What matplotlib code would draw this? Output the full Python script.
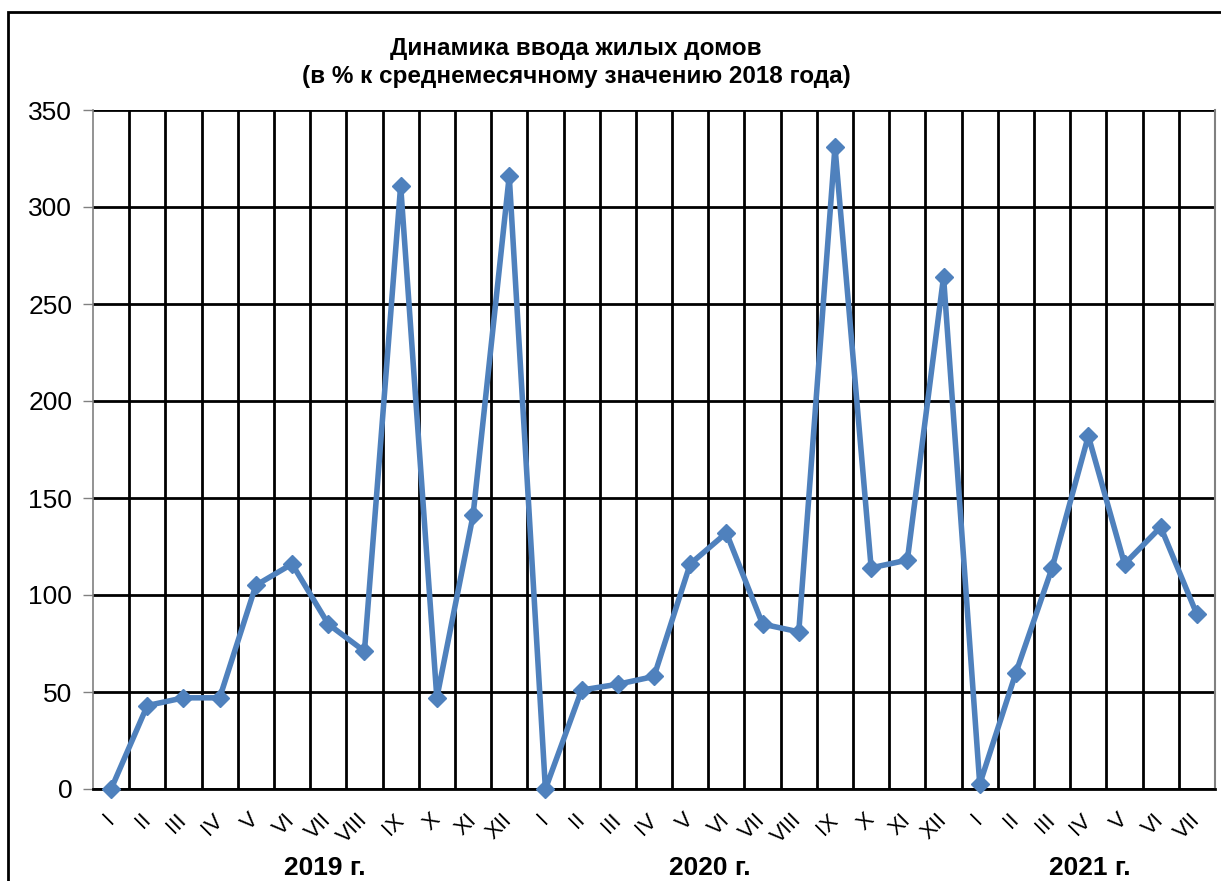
import matplotlib.pyplot as plt
from matplotlib.patches import Rectangle

months_2019 = ["I", "II", "III", "IV", "V", "VI", "VII", "VIII", "IX", "X", "XI", "XII"]
months_2020 = ["I", "II", "III", "IV", "V", "VI", "VII", "VIII", "IX", "X", "XI", "XII"]
months_2021 = ["I", "II", "III", "IV", "V", "VI", "VII"]

values_2019 = [0, 43, 47, 47, 105, 116, 85, 71, 311, 47, 141, 316]
values_2020 = [0, 51, 54, 58, 116, 132, 85, 81, 331, 114, 118, 264]
values_2021 = [2.5, 60, 114, 182, 116, 135, 90]

years = ["2019 г.", "2020 г.", "2021 г."]

labels = months_2019 + months_2020 + months_2021
values = values_2019 + values_2020 + values_2021
x = list(range(len(values)))

plt.rcParams['font.family'] = ['Liberation Sans', 'DejaVu Sans']

fig = plt.figure(figsize=(12.21, 8.81), dpi=100)
ax = fig.add_axes([93/1221, 1 - 789/881, (1215 - 93)/1221, (789 - 110)/881])

ax.set_xlim(-0.5, len(values) - 0.5)
ax.set_ylim(0, 350)
ax.set_yticks(range(0, 351, 50))
ax.tick_params(axis='y', labelsize=19, length=7, width=1, color='#808080', pad=8)

ax.set_xticks(x)
ax.set_xticklabels(labels, rotation=45, ha='right', va='center', rotation_mode='anchor', fontsize=16)
ax.tick_params(axis='x', length=0, pad=20)
ax.set_xticks([i + 0.5 for i in x[:-1]], minor=True)
ax.tick_params(axis='x', which='minor', length=0)

ax.grid(True, axis='y', color='black', linewidth=2)
ax.grid(True, axis='x', which='minor', color='black', linewidth=2)
ax.grid(False, axis='x', which='major')
ax.set_axisbelow(True)

ax.spines['top'].set_visible(False)
ax.spines['left'].set_color('#808080')
ax.spines['left'].set_linewidth(1.2)
ax.spines['right'].set_color('#808080')
ax.spines['right'].set_linewidth(1.5)
ax.spines['bottom'].set_color('black')
ax.spines['bottom'].set_linewidth(2)

ax.plot(x, values, color='#4F81BD', linewidth=4, marker='D', markersize=9,
        markerfacecolor='#4F81BD', markeredgecolor='#4F81BD', zorder=3, clip_on=False)

fig.text(576/1221, 1 - 48/881, "Динамика ввода жилых домов", ha='center', va='center',
         fontsize=17.5, fontweight='bold')
fig.text(576/1221, 1 - 77/881, "(в % к среднемесячному значению 2018 года)", ha='center', va='center',
         fontsize=17.5, fontweight='bold')

for name, px in zip(years, [325, 710, 1090]):
    fig.text(px/1221, 1 - 868/881, name, ha='center', va='center', fontsize=19, fontweight='bold')

fig.patches.append(Rectangle((8/1221, -0.05), 1.1, 1 - 12/881 + 0.05, transform=fig.transFigure,
                             fill=False, edgecolor='black', linewidth=2))

fig.savefig('out.png', dpi=100)
